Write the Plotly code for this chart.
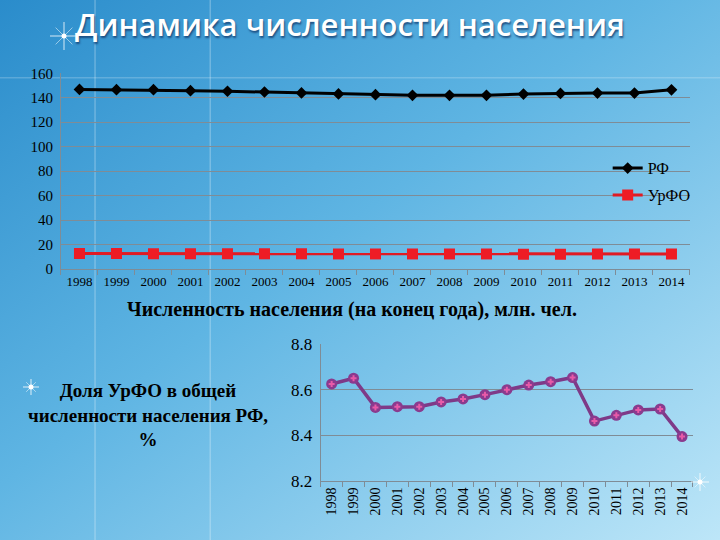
import base64
import plotly.graph_objects as go

years = [str(y) for y in range(1998, 2015)]
rf_pop = [146.8, 146.6, 146.6, 145.8, 145.3, 144.7, 143.9, 143.1, 142.5, 142.0,
          142.0, 142.0, 143.0, 143.5, 143.8, 143.8, 146.5]
urfo_pop = [12.6, 12.6, 12.5, 12.4, 12.4, 12.4, 12.4, 12.3, 12.3, 12.3,
            12.3, 12.3, 12.1, 12.1, 12.2, 12.2, 12.3]
urfo_share = [8.626, 8.651, 8.523, 8.526, 8.526, 8.547, 8.560, 8.579, 8.601, 8.621,
              8.636, 8.654, 8.463, 8.488, 8.512, 8.516, 8.395]
top_yticks = [0, 20, 40, 60, 80, 100, 120, 140, 160]
bot_yticks = [8.2, 8.4, 8.6, 8.8]

title_text = "Динамика численности населения"
top_caption = "Численность населения (на конец года), млн. чел."
side_text = "Доля УрФО в общей<br>численности населения РФ,<br>%"

svg = """<svg xmlns='http://www.w3.org/2000/svg' width='720' height='540' viewBox='0 0 720 540' preserveAspectRatio='none'>
<defs><linearGradient id='g' x1='0' y1='0' x2='1' y2='1'>
<stop offset='0' stop-color='#2a8ccb'/>
<stop offset='0.45' stop-color='#5fb5e3'/>
<stop offset='1' stop-color='#bde6f8'/>
</linearGradient></defs>
<rect width='720' height='540' fill='url(#g)'/>
</svg>"""
bg_src = "data:image/svg+xml;base64," + base64.b64encode(svg.encode()).decode()

serif = "Liberation Serif, Times New Roman, serif"
grid_c = "#7f8c96"
n = len(years)


def sparkle(cx, cy, r):
    W, H = 720.0, 540.0
    out = []
    for dx, dy, op in [(r, 0, 0.8), (0, r, 0.8), (r * 0.6, r * 0.6, 0.5), (r * 0.6, -r * 0.6, 0.5)]:
        out.append(dict(type="line", xref="paper", yref="paper",
                        x0=(cx - dx) / W, x1=(cx + dx) / W,
                        y0=1 - (cy - dy) / H, y1=1 - (cy + dy) / H,
                        line=dict(color="rgba(255,255,255,%.2f)" % op, width=1)))
    out.append(dict(type="circle", xref="paper", yref="paper",
                    x0=(cx - 2.5) / W, x1=(cx + 2.5) / W,
                    y0=1 - (cy + 2.5) / H, y1=1 - (cy - 2.5) / H,
                    fillcolor="white", line=dict(width=0)))
    return out


shapes = [
    dict(type="line", xref="paper", yref="paper", x0=0.132, x1=0.132, y0=0, y1=1,
         line=dict(color="rgba(255,255,255,0.25)", width=1.5), layer="below"),
    dict(type="line", xref="paper", yref="paper", x0=0.292, x1=0.292, y0=0, y1=1,
         line=dict(color="rgba(255,255,255,0.25)", width=1.5), layer="below"),
    dict(type="line", xref="paper", yref="paper", x0=0, x1=1, y0=0.856, y1=0.856,
         line=dict(color="rgba(255,255,255,0.2)", width=1.5), layer="below"),
]
shapes += sparkle(64, 36, 14) + sparkle(31, 387, 8) + sparkle(700, 482, 9)

fig = go.Figure()

fig.add_trace(go.Scatter(
    x=years, y=rf_pop, name="РФ", mode="lines+markers", legendgroup="a",
    line=dict(color="black", width=3),
    marker=dict(symbol="diamond", size=9, color="black"),
    xaxis="x", yaxis="y"))
fig.add_trace(go.Scatter(
    x=years, y=urfo_pop, name="УрФО", mode="lines+markers", legendgroup="b",
    line=dict(color="#e01b24", width=3),
    marker=dict(symbol="square", size=11, color="#ee1c25"),
    xaxis="x", yaxis="y"))

fig.add_trace(go.Scatter(
    x=years, y=urfo_share, mode="lines+markers", showlegend=False,
    line=dict(color="#7e3a88", width=3.5),
    marker=dict(symbol="circle", size=11, color="#8a3b8e"),
    xaxis="x2", yaxis="y2"))
fig.add_trace(go.Scatter(
    x=years, y=urfo_share, mode="markers", showlegend=False,
    marker=dict(symbol="cross", size=5, color="#e85aa8"),
    xaxis="x2", yaxis="y2", hoverinfo="skip"))

fig.update_layout(
    width=720, height=540,
    margin=dict(l=0, r=0, t=0, b=0),
    template="none",
    paper_bgcolor="#6bbde6",
    plot_bgcolor="rgba(0,0,0,0)",
    images=[dict(source=bg_src, xref="paper", yref="paper", x=0, y=1,
                 sizex=1, sizey=1, sizing="stretch", layer="below",
                 xanchor="left", yanchor="top")],
    xaxis=dict(domain=[0.0847, 0.9583], anchor="y", type="category",
               range=[-0.5, n - 0.5],
               tickson="boundaries", ticks="outside", ticklen=5,
               tickcolor=grid_c, showline=True, linecolor=grid_c, linewidth=1,
               showgrid=False, zeroline=False, automargin=False,
               tickfont=dict(family=serif, size=13, color="black")),
    yaxis=dict(domain=[0.5019, 0.8643], anchor="x", range=[0, 160],
               tickvals=top_yticks, ticks="", ticklabelstandoff=4,
               showline=True, linecolor=grid_c, showgrid=True, gridcolor=grid_c,
               gridwidth=1, zeroline=False, automargin=False,
               tickfont=dict(family=serif, size=15, color="black")),
    xaxis2=dict(domain=[0.4454, 0.9625], anchor="y2", type="category",
                range=[-0.5, n - 0.5],
                tickson="boundaries", ticks="outside", ticklen=5,
                tickcolor=grid_c, showline=True, linecolor=grid_c,
                showgrid=False, zeroline=False, automargin=False, tickangle=-90,
                tickfont=dict(family=serif, size=14, color="black")),
    yaxis2=dict(domain=[0.1093, 0.3624], anchor="x2", range=[8.2, 8.8],
                tickvals=bot_yticks, tickformat=".1f", ticks="", showline=True,
                linecolor=grid_c, showgrid=True, gridcolor=grid_c, zeroline=False,
                automargin=False, ticklabelstandoff=4,
                tickfont=dict(family=serif, size=17, color="black")),
    legend=dict(x=0.844, y=0.72, xanchor="left", yanchor="top",
                bgcolor="rgba(0,0,0,0)", tracegroupgap=3, itemwidth=30,
                traceorder="grouped",
                font=dict(family=serif, size=16, color="black")),
    showlegend=True,
    annotations=[
        dict(text=title_text, x=0.486, y=0.955, xref="paper", yref="paper",
             showarrow=False, xanchor="center", yanchor="middle",
             font=dict(family="Open Sans, sans-serif", size=31, color="white",
                       weight=600,
                       shadow="1px 2px 2px rgba(20,60,110,0.8)")),
        dict(text="<b>" + top_caption + "</b>", x=0.489, y=0.426, xref="paper",
             yref="paper", showarrow=False, xanchor="center", yanchor="middle",
             font=dict(family=serif, size=20, color="black")),
        dict(text="<b>" + side_text + "</b>", x=0.206, y=0.2315, xref="paper",
             yref="paper", showarrow=False, xanchor="center", yanchor="middle",
             align="center",
             font=dict(family=serif, size=19, color="black")),
    ],
    shapes=shapes,
)

fig.write_html("out.html", config={"displayModeBar": False},
               post_script="document.body.style.margin='0';document.body.style.overflow='hidden';")
